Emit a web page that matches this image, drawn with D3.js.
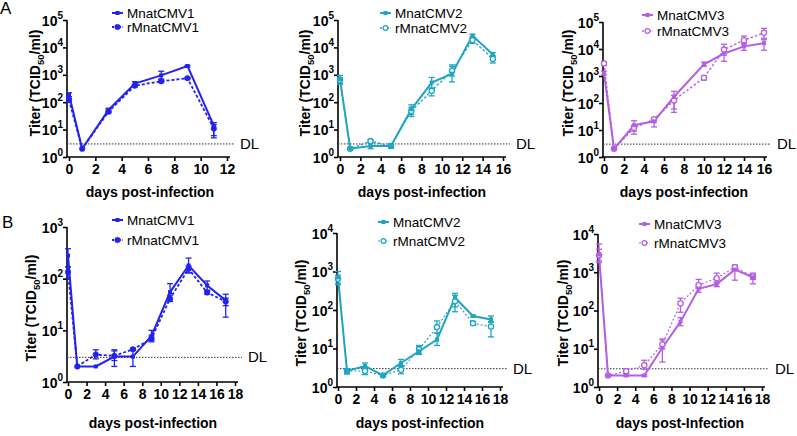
<!DOCTYPE html>
<html><head><meta charset="utf-8">
<script src="https://cdn.jsdelivr.net/npm/d3@7"></script>
<style>body{margin:0;background:#fff}svg{display:block}</style>
</head><body>
<svg id="c" width="797" height="436"></svg>
<script>
// ---------- DATA ----------
const DL = 3;
const ticksA1 = [0,2,4,6,8,10,12];
const ticks16 = [0,2,4,6,8,10,12,14,16];
const ticks18 = [0,2,4,6,8,10,12,14,16,18];

// Panel A1
const daysA1 = [0,1,3,5,7,9,11];
const a1M    = [190,2,52,480,950,2100,14];
const a1Mhi  = [220,2,60,560,1350,2200,18];
const a1Mlo  = [160,2,45,420,700,1900,6];
const a1R    = [120,2,45,400,580,750,11];
const a1Rhi  = [140,2,52,450,650,800,15];
const a1Rlo  = [100,2,40,360,520,700,5];
// Panel A2
const daysA2 = [0,1,3,5,7,9,11,13,15];
const a2M    = [680,2,2.5,2.5,55,520,1100,27000,5500];
const a2Mhi  = [950,2,3.2,3,80,800,2300,30000,6500];
const a2Mlo  = [450,2,2,2.1,35,300,550,24000,4500];
const a2R    = [650,2,3.8,2.5,48,260,1400,18500,3800];
const a2Rhi  = [800,2,4.2,3,65,330,2000,22000,5000];
const a2Rlo  = [500,2,3.4,2.2,30,170,900,14000,2700];
// Panel A3
const daysA3 = [0,1,3,5,7,10,12,14,16];
const a3M    = [1300,2,15,21,170,2700,6800,12500,16500];
const a3Mhi  = [1500,2,22,27,270,3300,9000,16000,22000];
const a3Mlo  = [1100,2,9,13,60,2300,3500,9000,9000];
const a3R    = [2900,2,12,25,125,870,9500,21000,40000];
const a3Rhi  = [3300,2,15,28,190,1000,15000,30000,58000];
const a3Rlo  = [2500,2,7,19,45,700,6000,14000,25000];
// Panel B1
const daysB = [0,1,3,5,7,9,11,13,15,17];
const b1M    = [280,2,2,3.1,3.1,7.8,55,180,74,38];
const b1Mhi  = [380,2,2,4.2,4.3,10,80,250,90,50];
const b1Mlo  = [170,2,2,2,2,6.5,40,130,58,18];
const b1R    = [135,2,3.4,3.2,4.3,6.9,41,155,54,36];
const b1Rhi  = [170,2,4.2,4,4.5,7.8,48,175,60,42];
const b1Rlo  = [100,2,2.8,2.6,4.1,6,36,130,50,30];
// Panel B2
const b2M    = [700,2.6,3.5,2,4.2,8.5,17,210,70,57];
const b2Mhi  = [1000,3,4.2,2.1,5.2,11,25,270,75,70];
const b2Mlo  = [450,2.2,2.6,1.9,3.6,7,12,90,65,50];
const b2R    = [650,2.6,2.6,2,2.8,9.5,36,170,45,37];
const b2Rhi  = [800,3,3.2,2.1,3.4,12,52,240,50,48];
const b2Rlo  = [500,2.2,2.1,1.9,2.2,7.5,25,120,40,20];
// Panel B3
const b3M    = [2900,2,2,2,10.6,51,370,490,1170,740];
const b3Mhi  = [5500,2,2.3,2.1,17,65,480,560,1500,950];
const b3Mlo  = [1800,2,1.9,1.9,4.5,40,300,420,620,500];
const b3R    = [2800,2,2.6,3.7,13,155,460,700,1350,780];
const b3Rhi  = [4000,2,3,5,18,210,650,950,1550,900];
const b3Rlo  = [2000,2,2.2,2.9,10,90,380,520,1150,650];

// ---------- STYLE / LAYOUT ----------
const BLUE = "#2323ee", TEAL = "#1fa5c2", PURP = "#b45ee4";
const FONT = "'Liberation Sans', Arial, Helvetica, sans-serif";

const panels = [
 {x0:69, x1:227, ax:67, yT:20, yB:157, ymax:1e5, xmax:12, ticks:ticksA1, color:BLUE,
  days:daysA1, M:[a1M,a1Mlo,a1Mhi], R:[a1R,a1Rlo,a1Rhi], name:"1", open:false, dash:"3,2", dw:1.8,
  lx:112, ly:13, lgap:14, ytx:40, yty:83, xtx:150, xty:197, xlab:"days post-infection"},
 {x0:340, x1:503, ax:338, yT:20, yB:157, ymax:1e5, xmax:16, ticks:ticks16, color:TEAL,
  days:daysA2, M:[a2M,a2Mlo,a2Mhi], R:[a2R,a2Rlo,a2Rhi], name:"2", open:true, dash:"2.5,2", dw:1.4,
  lx:380, ly:13, lgap:15, ytx:310, yty:83, xtx:422, xty:197, xlab:"days post-infection"},
 {x0:604, x1:764, ax:603, yT:22, yB:157, ymax:1e5, xmax:16, ticks:ticks16, color:PURP,
  days:daysA3, M:[a3M,a3Mlo,a3Mhi], R:[a3R,a3Rlo,a3Rhi], name:"3", open:true, dash:"2.5,2", dw:1.4,
  lx:642, ly:15, lgap:16, ytx:573, yty:83, xtx:684, xty:197, xlab:"days post-infection"},
 {x0:68, x1:235, ax:67, yT:227, yB:382, ymax:1e3, xmax:18, ticks:ticks18, color:BLUE,
  days:daysB, M:[b1M,b1Mlo,b1Mhi], R:[b1R,b1Rlo,b1Rhi], name:"1", open:false, dash:"3,2", dw:1.8,
  lx:112, ly:220, lgap:20, ytx:36, yty:308, xtx:153, xty:428, xlab:"days post-infection"},
 {x0:338, x1:500, ax:337, yT:233, yB:387, ymax:1e4, xmax:18, ticks:ticks18, color:TEAL,
  days:daysB, M:[b2M,b2Mlo,b2Mhi], R:[b2R,b2Rlo,b2Rhi], name:"2", open:true, dash:"2,2", dw:1.2,
  lx:378, ly:222, lgap:19, ytx:306, yty:313, xtx:420, xty:428, xlab:"days post-infection"},
 {x0:599, x1:762, ax:598, yT:234, yB:387, ymax:1e4, xmax:18, ticks:ticks18, color:PURP,
  days:daysB, M:[b3M,b3Mlo,b3Mhi], R:[b3R,b3Rlo,b3Rhi], name:"3", open:true, dash:"2,2", dw:1.2,
  lx:639, ly:224, lgap:19, ytx:568, yty:313, xtx:680, xty:428, xlab:"days post-Infection"}
];

const svg = d3.select("#c").style("font-family", FONT);

svg.append("text").attr("x",0).attr("y",14).attr("font-size",17).text("A");
svg.append("text").attr("x",2).attr("y",228).attr("font-size",17).text("B");

panels.forEach(p => {
  const g = svg.append("g");
  const x = d3.scaleLinear().domain([0, p.xmax]).range([p.x0, p.x1]);
  const y = d3.scaleLog().domain([1, p.ymax]).range([p.yB, p.yT]);
  const c = p.color;

  // axes
  const yAx = d3.axisLeft(y).tickValues(d3.range(0, Math.round(Math.log10(p.ymax))+1).map(e => Math.pow(10,e)))
    .tickSize(4).tickFormat("");
  const yg = g.append("g").attr("transform",`translate(${p.ax},0)`).call(yAx);
  yg.select(".domain").attr("d", `M-0,${p.yT}V${p.yB}`);
  yg.selectAll("line,path").attr("stroke","#000").attr("stroke-width",1.6);
  yg.selectAll(".tick").each(function(v){
    const t = d3.select(this).append("text").attr("x",-4).attr("y",5).attr("text-anchor","end")
      .attr("fill","#000").attr("font-size",14).attr("font-weight","bold").attr("font-family",FONT);
    t.append("tspan").text("10");
    t.append("tspan").attr("font-size",10).attr("dy",-7).text(Math.round(Math.log10(v)));
  });

  const xAx = d3.axisBottom(x).tickValues(p.ticks).tickSize(4).tickFormat(d3.format("d"));
  const xg = g.append("g").attr("transform",`translate(0,${p.yB})`).call(xAx);
  xg.select(".domain").attr("d", `M${p.ax},0H${p.x1+3}`);
  xg.selectAll("line,path").attr("stroke","#000").attr("stroke-width",1.6);
  xg.selectAll("text").attr("font-size",14).attr("font-weight","bold").attr("font-family",FONT)
    .attr("fill","#000").attr("y",7);

  // DL line
  g.append("line").attr("x1",p.ax).attr("x2",p.x1+7).attr("y1",y(DL)).attr("y2",y(DL))
    .attr("stroke","#333").attr("stroke-width",1).attr("stroke-dasharray","1.5,1.5");
  g.append("text").attr("x",p.x1+13).attr("y",y(DL)+5).attr("font-size",15).text("DL");

  // titles
  const yt = g.append("text").attr("transform",`translate(${p.ytx},${p.yty}) rotate(-90)`)
    .attr("text-anchor","middle").attr("font-size",14).attr("font-weight","bold");
  yt.append("tspan").text("Titer (TCID");
  yt.append("tspan").attr("font-size",9.5).attr("dy",4).text("50");
  yt.append("tspan").attr("dy",-4).text("/ml)");
  g.append("text").attr("x",p.xtx).attr("y",p.xty).attr("text-anchor","middle")
    .attr("font-size",14).attr("font-weight","bold").text(p.xlab);

  const mk = arr => p.days.map((d,i)=>({d, v:arr[0][i], lo:arr[1][i], hi:arr[2][i]}));
  const dataM = mk(p.M), dataR = mk(p.R);
  const line = d3.line().x(d=>x(d.d)).y(d=>y(d.v));

  function errs(data){
    const e = g.append("g").attr("stroke",c).attr("stroke-width",1.3);
    data.forEach(d=>{
      if (d.hi===d.lo) return;
      e.append("line").attr("x1",x(d.d)).attr("x2",x(d.d)).attr("y1",y(d.lo)).attr("y2",y(d.hi));
      e.append("line").attr("x1",x(d.d)-3).attr("x2",x(d.d)+3).attr("y1",y(d.lo)).attr("y2",y(d.lo));
      e.append("line").attr("x1",x(d.d)-3).attr("x2",x(d.d)+3).attr("y1",y(d.hi)).attr("y2",y(d.hi));
    });
  }
  errs(dataR); errs(dataM);

  g.append("path").datum(dataR).attr("d",line).attr("fill","none").attr("stroke",c)
    .attr("stroke-width",p.dw).attr("stroke-dasharray",p.dash);
  g.append("path").datum(dataM).attr("d",line).attr("fill","none").attr("stroke",c).attr("stroke-width",2);

  g.selectAll(null).data(dataR).enter().append("circle")
    .attr("cx",d=>x(d.d)).attr("cy",d=>y(d.v)).attr("r",p.open?2.6:2.8)
    .attr("fill",p.open?"#fff":c).attr("stroke",c).attr("stroke-width",p.open?1.3:0.5);
  g.selectAll(null).data(dataM).enter().append("rect")
    .attr("x",d=>x(d.d)-2).attr("y",d=>y(d.v)-2).attr("width",4).attr("height",4).attr("fill",c);

  // legend
  const lg = g.append("g");
  const lx1 = p.lx, lx2 = p.lx+11, r2 = p.ly + p.lgap;
  lg.append("line").attr("x1",lx1).attr("x2",lx2).attr("y1",p.ly).attr("y2",p.ly).attr("stroke",c).attr("stroke-width",2);
  lg.append("rect").attr("x",(lx1+lx2)/2-2).attr("y",p.ly-2).attr("width",4).attr("height",4).attr("fill",c);
  lg.append("line").attr("x1",lx1).attr("x2",lx2).attr("y1",r2).attr("y2",r2).attr("stroke",c)
    .attr("stroke-width",p.dw).attr("stroke-dasharray","2,1.5");
  lg.append("circle").attr("cx",(lx1+lx2)/2).attr("cy",r2).attr("r",p.open?2.4:2.8)
    .attr("fill",p.open?"#fff":c).attr("stroke",c).attr("stroke-width",p.open?1.2:0.5);
  lg.append("text").attr("x",lx2+4).attr("y",p.ly+5).attr("font-size",13.5).text("MnatCMV"+p.name);
  lg.append("text").attr("x",lx2+4).attr("y",r2+5).attr("font-size",13.5).text("rMnatCMV"+p.name);
});
</script>
</body></html>
